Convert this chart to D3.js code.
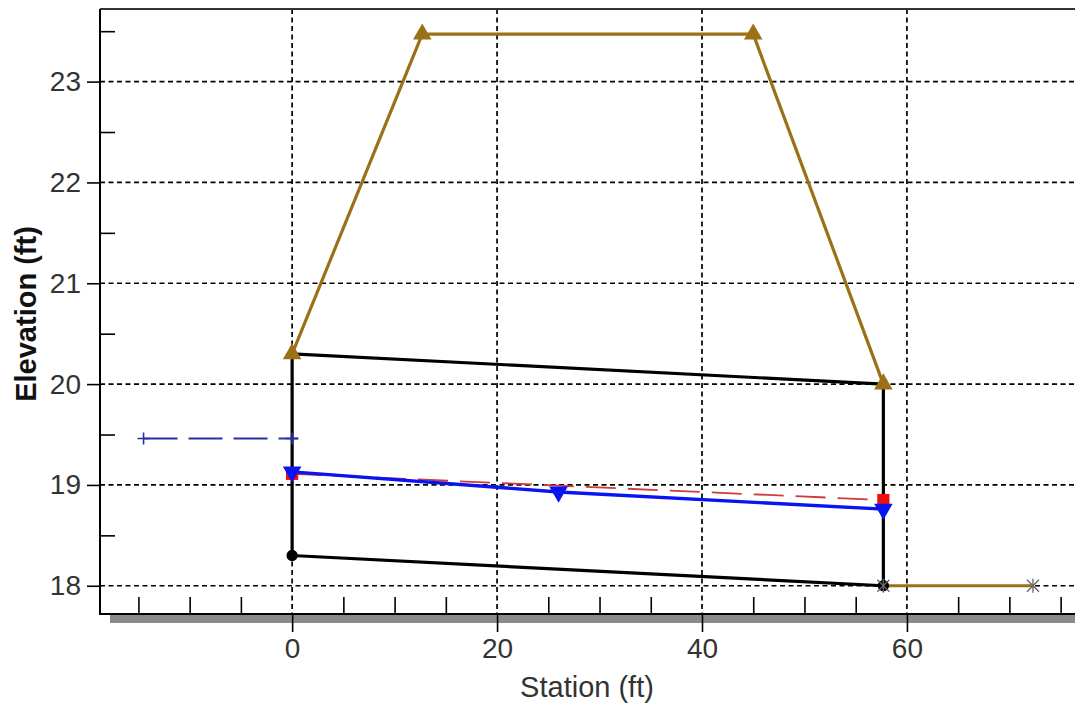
<!DOCTYPE html>
<html><head><meta charset="utf-8">
<script src="https://cdn.jsdelivr.net/npm/d3@7"></script>
<style>body{margin:0;background:#fff}svg{display:block}text{font-family:"Liberation Sans",Arial,sans-serif}</style>
</head><body><svg id="c" width="1075" height="705"></svg>
<script>
// ---- data ----
const xTicks = [0, 20, 40, 60];
const yTicks = [18, 19, 20, 21, 22, 23];
const roadSta = [0, 12.7, 45.0, 57.7];
const roadElev = [20.3, 23.47, 23.47, 20.0];
const tailSta = [57.7, 72.3];
const tailElev = [18.0, 18.0];
const topSta = [0, 57.7];
const topElev = [20.3, 20.0];
const botSta = [0, 57.7];
const botElev = [18.3, 18.0];
const wsSta = [0, 26.0, 57.7];
const wsElev = [19.13, 18.93, 18.76];
const eglSta = [0, 57.7];
const eglElev = [19.11, 18.85];
const upSta = [-14.5, 0];
const upElev = [19.46, 19.46];

const svg = d3.select("#c");
const L = 100, T = 9, R = 1076, B = 614;
const x = d3.scaleLinear().domain([-18.75, 76.5]).range([L, R]);
const y = d3.scaleLinear().domain([17.72, 23.72]).range([B, T]);
const pts = (s, e) => s.map((v, i) => [v, e[i]]);
const line = d3.line().x(d => x(d[0])).y(d => y(d[1]));

// shadow
svg.append("rect").attr("x", 110).attr("y", B + 1).attr("width", 1075 - 110).attr("height", 8).attr("fill", "#8a8a8a");

// grid
const g = svg.append("g");
g.selectAll("line.gx").data(xTicks).join("line")
  .attr("x1", d => x(d)).attr("x2", d => x(d)).attr("y1", T).attr("y2", B)
  .attr("stroke", "#000").attr("stroke-width", 1.7).attr("stroke-dasharray", "5,3.5");
g.selectAll("line.gy").data(yTicks).join("line")
  .attr("x1", L).attr("x2", R).attr("y1", d => y(d)).attr("y2", d => y(d))
  .attr("stroke", "#000").attr("stroke-width", 1.7).attr("stroke-dasharray", "5,3.5");

// axes
svg.append("g").attr("transform", `translate(${L},0)`)
  .call(d3.axisLeft(y).tickValues(yTicks).tickSize(13).tickPadding(6).tickFormat(d3.format("d")));
svg.append("g").attr("transform", `translate(0,${B})`)
  .call(d3.axisBottom(x).tickValues(xTicks).tickSize(18).tickPadding(6).tickFormat(d3.format("d")));
const yMinor = d3.range(18.5, 23.6, 1);
svg.append("g").attr("transform", `translate(${L},0)`)
  .call(d3.axisRight(y).tickValues(yMinor).tickSize(15).tickFormat(""));
const xMinor = d3.range(-15, 76, 5).filter(v => v % 20 !== 0);
svg.append("g").attr("transform", `translate(0,${B})`)
  .call(d3.axisTop(x).tickValues(xMinor).tickSize(17).tickFormat(""));
svg.selectAll(".domain").remove();
svg.selectAll(".tick line").attr("stroke", "#000").attr("stroke-width", 1.6);
svg.selectAll(".tick text").attr("font-size", 28).attr("fill", "#333")
  .attr("font-family", "'Liberation Sans',Arial,sans-serif");

// frame
svg.append("line").attr("x1", L).attr("x2", R).attr("y1", T).attr("y2", T).attr("stroke", "#333").attr("stroke-width", 2);
svg.append("line").attr("x1", L).attr("x2", L).attr("y1", T).attr("y2", B + 1).attr("stroke", "#000").attr("stroke-width", 2);
svg.append("line").attr("x1", L).attr("x2", R).attr("y1", B).attr("y2", B).attr("stroke", "#000").attr("stroke-width", 2);

// labels
svg.append("text").attr("x", 587).attr("y", 697).attr("text-anchor", "middle")
  .attr("font-size", 29).attr("fill", "#333").text("Station (ft)");
svg.append("text").attr("transform", "translate(36,314) rotate(-90)").attr("text-anchor", "middle")
  .attr("font-size", 29).attr("font-weight", "bold").attr("fill", "#111").text("Elevation (ft)");

const brown = "#9a7116";
// culvert (black)
svg.append("path").attr("d", line(pts(topSta, topElev))).attr("fill", "none").attr("stroke", "#000").attr("stroke-width", 3.2);
svg.append("path").attr("d", line(pts(botSta, botElev))).attr("fill", "none").attr("stroke", "#000").attr("stroke-width", 3.2);
svg.append("path").attr("d", line([[botSta[0], botElev[0]], [topSta[0], topElev[0]]])).attr("stroke", "#000").attr("stroke-width", 3.2);
svg.append("path").attr("d", line([[botSta[1], botElev[1]], [topSta[1], topElev[1]]])).attr("stroke", "#000").attr("stroke-width", 3.2);

// road
svg.append("path").attr("d", line(pts(roadSta, roadElev))).attr("fill", "none").attr("stroke", brown).attr("stroke-width", 3.2);
svg.append("path").attr("d", line(pts(tailSta, tailElev))).attr("fill", "none").attr("stroke", brown).attr("stroke-width", 3.2);

// upstream dashed
svg.append("path").attr("d", line([[upSta[0], upElev[0]], [upSta[1] + 0.6, upElev[1]]])).attr("fill", "none")
  .attr("stroke", "#2331a8").attr("stroke-width", 2).attr("stroke-dasharray", "34,11");
// EGL red dashed
svg.append("path").attr("d", line(pts(eglSta, eglElev))).attr("fill", "none")
  .attr("stroke", "#d03a3a").attr("stroke-width", 1.8).attr("stroke-dasharray", "30,12");
// WS blue
svg.append("path").attr("d", line(pts(wsSta, wsElev))).attr("fill", "none").attr("stroke", "#0a14f0").attr("stroke-width", 3.4);

// markers
const sym = (type, size) => d3.symbol().type(type).size(size)();
const addMarks = (data, type, size, fill, rot) => {
  svg.append("g").selectAll("path").data(data).join("path")
    .attr("d", sym(type, size))
    .attr("transform", d => `translate(${x(d[0])},${y(d[1])})${rot ? " rotate(" + rot + ")" : ""}`)
    .attr("fill", fill);
};
addMarks(pts(botSta, botElev), d3.symbolCircle, 100, "#000");
addMarks(pts(eglSta, eglElev), d3.symbolSquare, 150, "#ee1010");
addMarks(pts(wsSta, wsElev), d3.symbolTriangle, 150, "#0a14f0", 180);
addMarks(pts(roadSta, roadElev), d3.symbolTriangle, 150, brown);
svg.append("g").selectAll("path").data(pts(upSta, upElev)).join("path")
  .attr("d", d => `M${x(d[0]) - 6},${y(d[1])}H${x(d[0]) + 6}M${x(d[0])},${y(d[1]) - 6}V${y(d[1]) + 6}`)
  .attr("stroke", "#2331a8").attr("stroke-width", 1.6);
svg.append("g").selectAll("path").data(pts(tailSta, tailElev)).join("path")
  .attr("d", d => `M${x(d[0]) - 6},${y(d[1]) - 6}L${x(d[0]) + 6},${y(d[1]) + 6}M${x(d[0]) - 6},${y(d[1]) + 6}L${x(d[0]) + 6},${y(d[1]) - 6}M${x(d[0])},${y(d[1]) - 7}V${y(d[1]) + 7}`)
  .attr("stroke", "#666").attr("stroke-width", 1.3).attr("fill", "none");
</script></body></html>
